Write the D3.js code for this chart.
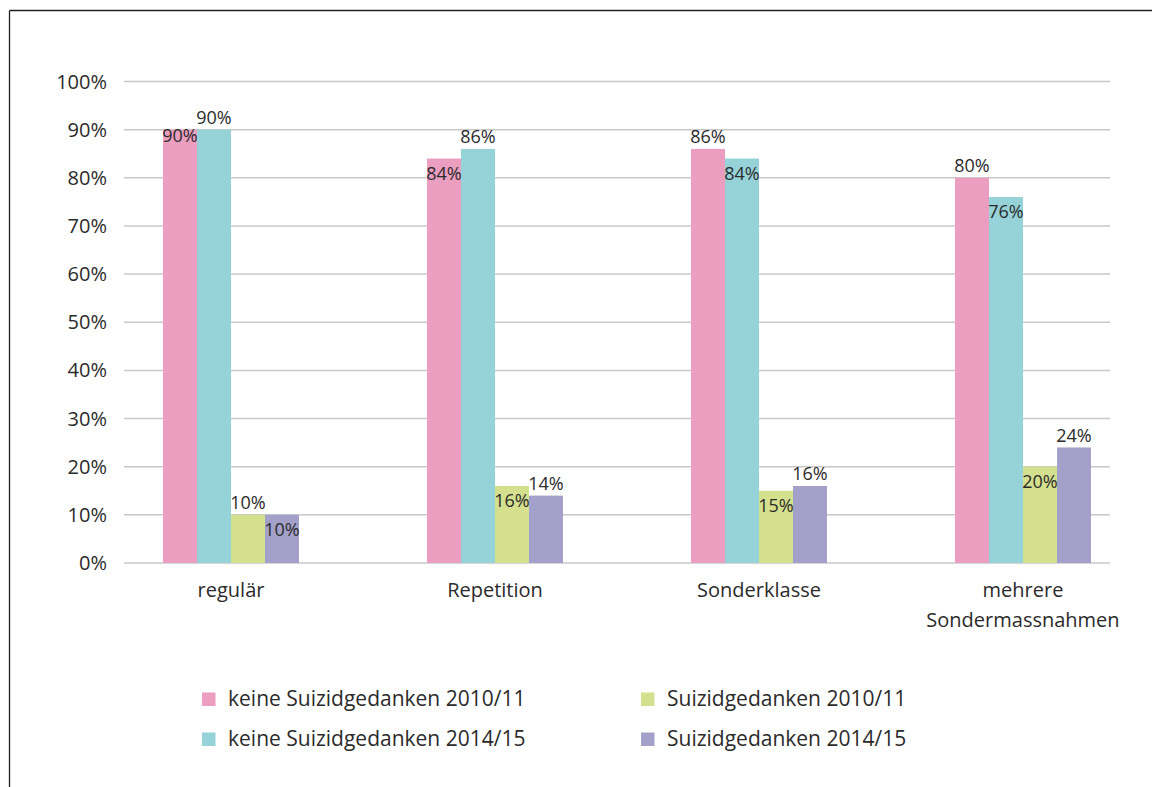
<!DOCTYPE html>
<html>
<head>
<meta charset="utf-8">
<script src="https://cdn.jsdelivr.net/npm/d3@7"></script>
<style>
  body { margin: 0; background: #fff; }
  svg text { font-family: "Open Sans", sans-serif; fill: #2b2b2b; }
</style>
</head>
<body>
<svg id="chart" width="1152" height="787"></svg>
<script>
// categories and series
var categories = ["regulär", "Repetition", "Sonderklasse", "mehrere Sondermassnahmen"];
var seriesNames = ["keine Suizidgedanken 2010/11", "keine Suizidgedanken 2014/15",
                   "Suizidgedanken 2010/11", "Suizidgedanken 2014/15"];
var keine2010 = [90, 84, 86, 80];
var keine2014 = [90, 86, 84, 76];
var suizid2010 = [10, 16, 15, 20];
var suizid2014 = [10, 14, 16, 24];
// per category: where the value label sits ("above" the bar, "inside" it, or on its "edge")
var labelPlace = [
  ["edge", "above", "above", "inside"],
  ["inside", "above", "inside", "above"],
  ["above", "inside", "inside", "above"],
  ["above", "inside", "inside", "above"]
];
var colors = ["#ec9ec1", "#96d3d9", "#d4e08d", "#a3a1ca"];
var yTicks = [0, 10, 20, 30, 40, 50, 60, 70, 80, 90, 100];

var allSeries = [keine2010, keine2014, suizid2010, suizid2014];

var svg = d3.select("#chart");

// frame lines (top and left)
svg.append("line").attr("x1", 9.5).attr("x2", 1152).attr("y1", 10.5).attr("y2", 10.5)
  .attr("stroke", "#222").attr("stroke-width", 1.3);
svg.append("line").attr("x1", 9.5).attr("x2", 9.5).attr("y1", 10.5).attr("y2", 787)
  .attr("stroke", "#222").attr("stroke-width", 1.3);

var y = d3.scaleLinear().domain([0, 100]).range([563, 81.5]);
var x0 = d3.scaleBand().domain(categories).range([99, 1155]);
var x1 = d3.scaleBand().domain(d3.range(4)).range([0, 136]);

// gridlines
svg.append("g").selectAll("line")
  .data(yTicks)
  .enter().append("line")
  .attr("x1", 124).attr("x2", 1110)
  .attr("y1", function(d) { return y(d); })
  .attr("y2", function(d) { return y(d); })
  .attr("stroke", "#c8c8c8").attr("stroke-width", 1.5);

// y tick labels
svg.append("g").selectAll("text")
  .data(yTicks)
  .enter().append("text")
  .attr("x", 107)
  .attr("y", function(d) { return y(d); })
  .attr("dy", "0.35em")
  .attr("text-anchor", "end")
  .style("font-size", "20px")
  .text(function(d) { return d + "%"; });

// bars
var groups = svg.append("g").selectAll("g")
  .data(categories)
  .enter().append("g")
  .attr("transform", function(d) {
    return "translate(" + (x0(d) + x0.bandwidth() / 2 - 68) + ",0)";
  });

groups.selectAll("rect")
  .data(function(d, i) { return allSeries.map(function(s, k) { return { k: k, v: s[i] }; }); })
  .enter().append("rect")
  .attr("x", function(d) { return x1(d.k); })
  .attr("width", x1.bandwidth())
  .attr("y", function(d) { return y(d.v); })
  .attr("height", function(d) { return y(0) - y(d.v); })
  .attr("fill", function(d) { return colors[d.k]; });

// value labels
var labelOffset = { above: -12, inside: 15, edge: 6 };
groups.selectAll("text")
  .data(function(d, i) {
    return allSeries.map(function(s, k) { return { k: k, v: s[i], place: labelPlace[i][k] }; });
  })
  .enter().append("text")
  .attr("x", function(d) { return x1(d.k) + x1.bandwidth() / 2; })
  .attr("y", function(d) { return y(d.v) + labelOffset[d.place]; })
  .attr("dy", "0.35em")
  .attr("text-anchor", "middle")
  .style("font-size", "18px")
  .text(function(d) { return d.v + "%"; });

// category labels
svg.append("g").selectAll("text")
  .data(categories)
  .enter().append("text")
  .attr("x", function(d) { return x0(d) + x0.bandwidth() / 2; })
  .attr("y", 590)
  .attr("dy", "0.35em")
  .attr("text-anchor", "middle")
  .style("font-size", "20px")
  .each(function(d) {
    var t = d3.select(this);
    var words = d.split(" ");
    if (words.length > 1) {
      t.append("tspan").attr("x", x0(d) + x0.bandwidth() / 2).text(words[0]);
      t.append("tspan").attr("x", x0(d) + x0.bandwidth() / 2).attr("dy", 30).text(words[1]);
    } else {
      t.text(d);
    }
  });

// legend
var legendPos = [[202, 699], [202, 739], [641, 699], [641, 739]];
var legend = svg.append("g").selectAll("g")
  .data(seriesNames)
  .enter().append("g")
  .attr("transform", function(d, i) { return "translate(" + legendPos[i][0] + "," + legendPos[i][1] + ")"; });

legend.append("rect")
  .attr("x", 0).attr("y", -6.5)
  .attr("width", 13.5).attr("height", 13.5)
  .attr("fill", function(d, i) { return colors[i]; });

legend.append("text")
  .attr("x", 26)
  .attr("y", 0)
  .attr("dy", "0.35em")
  .style("font-size", "21px")
  .text(function(d) { return d; });
</script>
</body>
</html>
